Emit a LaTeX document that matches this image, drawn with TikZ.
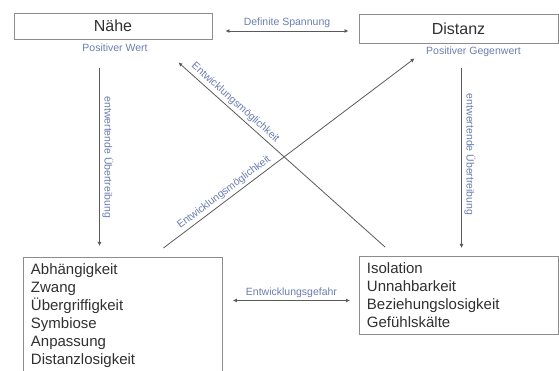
\documentclass[tikz,border=0pt]{standalone}
\usepackage{fontspec}
\setmainfont{Liberation Sans}
\usetikzlibrary{arrows.meta,calc}
\definecolor{linecol}{HTML}{5A5A5A}
\definecolor{boxcol}{HTML}{8C8C8C}
\definecolor{notecol}{HTML}{6A7DB0}
\definecolor{textcol}{HTML}{303030}

\begin{document}
\begin{tikzpicture}[
  x=1pt, y=-1pt,
  every node/.style={font=\fontsize{15}{18}\selectfont, text=textcol},
  valuebox/.style={draw=boxcol, line width=0.9pt, minimum width=198pt, minimum height=26pt, inner sep=0pt},
  listbox/.style={draw=boxcol, line width=0.9pt, anchor=north west, text width=184pt, align=left, inner xsep=7.5pt, inner ysep=6.5pt},
  note/.style={font=\fontsize{10.5}{12}\selectfont, text=notecol, inner sep=2.5pt},
  conn/.style={draw=linecol, line width=0.8pt, -{Latex[length=4pt,width=4pt]}},
  biconn/.style={conn, {Latex[length=4pt,width=4pt]}-{Latex[length=4pt,width=4pt]}}
]
\useasboundingbox (0,0) rectangle (559,371);

% the two values
\node[valuebox, font=\fontsize{16}{18}\selectfont] (nahe) at (113,26) {Nähe};
\node[valuebox, minimum width=199pt, minimum height=29pt, font=\fontsize{16}{18}\selectfont] (distanz) at (458.5,28.5) {Distanz};
\node[note] (wert) at ($(nahe.south)+(2,8)$) {Positiver Wert};
\node[note] (gegenwert) at ($(distanz.south)+(15,8)$) {Positiver Gegenwert};

% the two exaggerations
\node[listbox] (abh) at (23,257) {Abhängigkeit\\Zwang\\Übergriffigkeit\\Symbiose\\Anpassung\\Distanzlosigkeit};
\node[listbox] (iso) at (359,256) {Isolation\\Unnahbarkeit\\Beziehungslosigkeit\\Gefühlskälte};

% connectors
\draw[biconn] ($(nahe.east)+(13,5)$) -- ($(distanz.west)+(-10,2.5)$)
  node[midway, above, note] {Definite Spannung};
\draw[conn] ($(nahe.south)+(-13.5,29)$) -- ($(nahe.south |- abh.north)+(-13.5,-11)$)
  node[midway, note, rotate=-90, anchor=south] {entwertende Übertreibung};
\draw[conn] ($(distanz.south)+(3,25)$) -- ($(distanz.south |- iso.north)+(3,-8)$)
  node[pos=0.48, note, rotate=-90, anchor=south] {entwertende Übertreibung};
\draw[conn] ($(abh.north)+(40.5,-9)$) -- ($(distanz.south west)+(56,15)$)
  node[pos=0.26, sloped, above, note] {Entwicklungsmöglichkeit};
\draw[conn] ($(iso.north west)+(26,-9)$) -- ($(nahe.south east)+(-34,23)$)
  node[pos=0.75, sloped, above, note] {Entwicklungsmöglichkeit};
\draw[biconn] ($(abh.north east |- iso.west)+(10,5)$) -- ($(iso.west)+(-9,5)$)
  node[midway, above, note] {Entwicklungsgefahr};
\end{tikzpicture}
\end{document}
